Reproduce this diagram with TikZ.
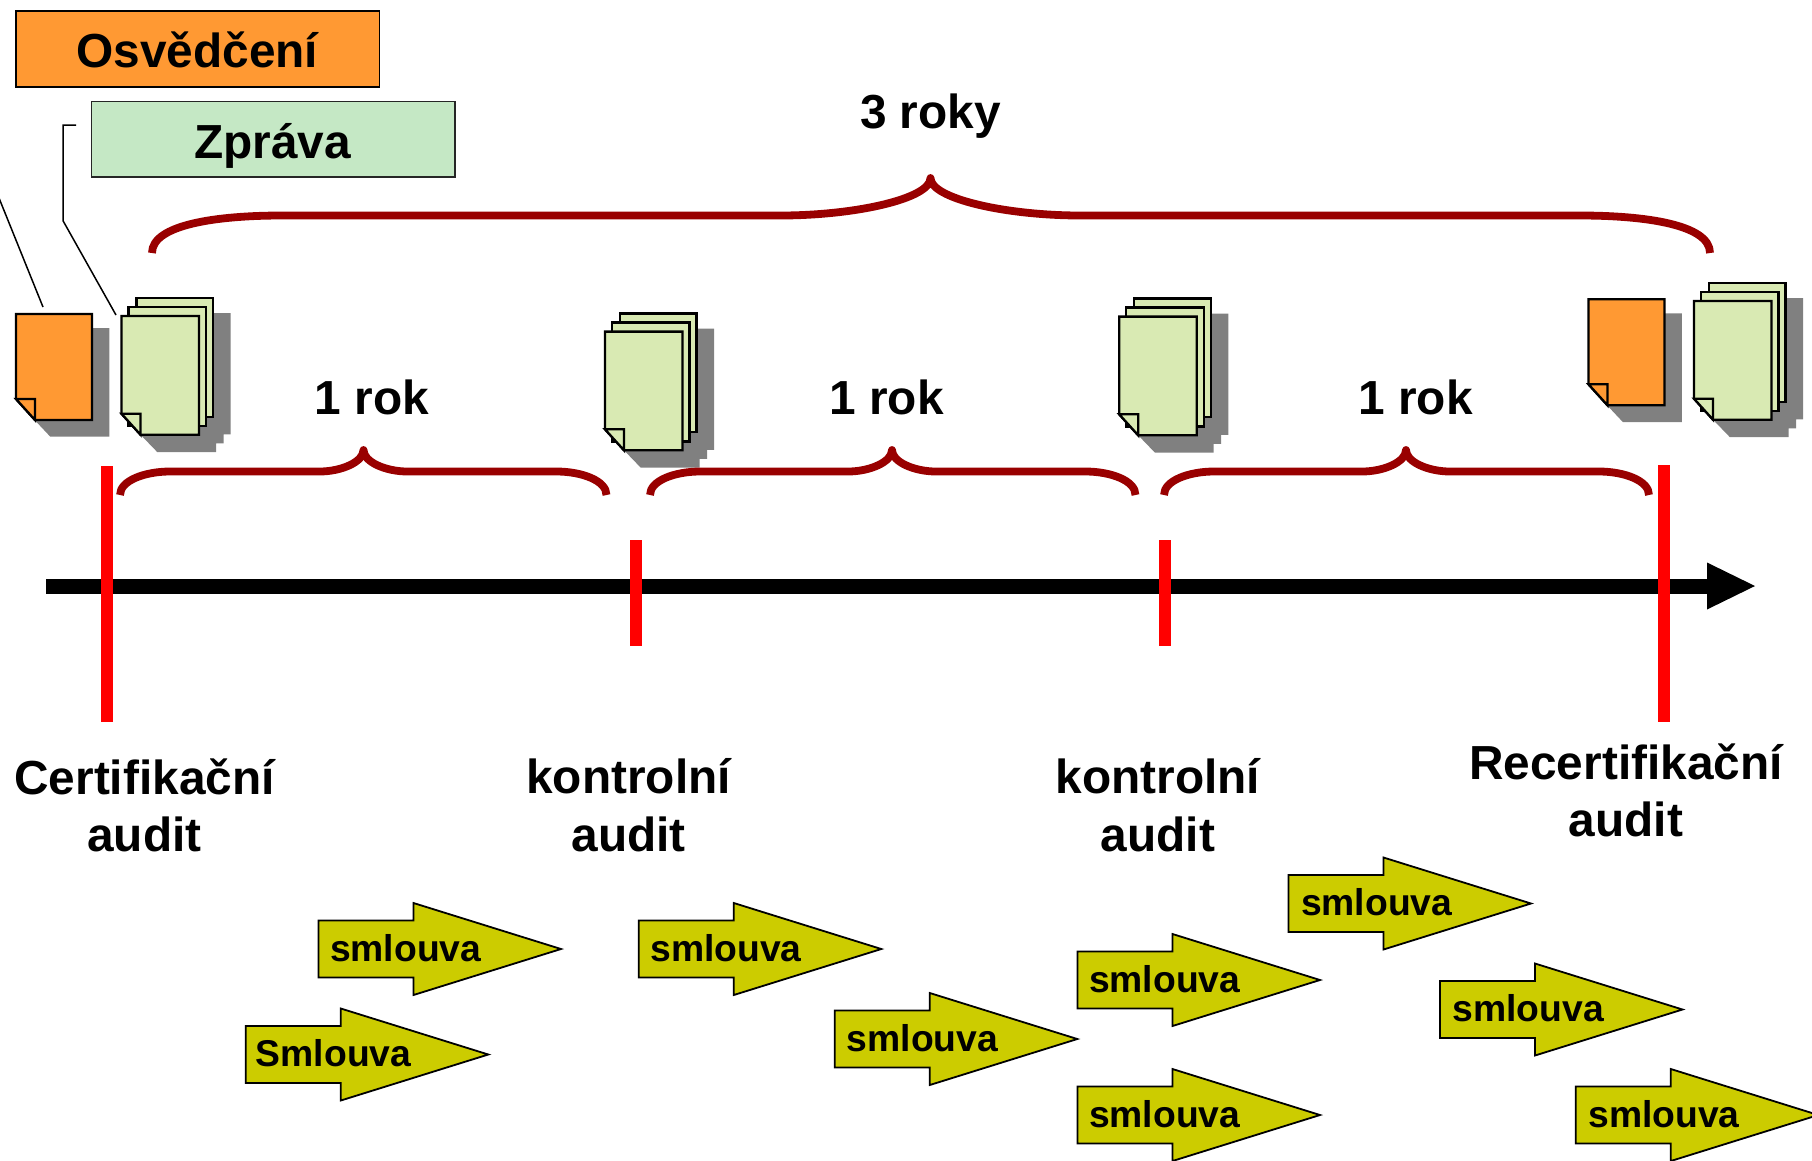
\documentclass[tikz,border=0pt]{standalone}
\usepackage{fontspec}
\setmainfont{Liberation Sans}
\definecolor{orng}{HTML}{FF9933}
\definecolor{boxgreen}{HTML}{C5E8C5}
\definecolor{docgreen}{HTML}{D9EAB3}
\definecolor{arrowyellow}{HTML}{CCCC00}
\definecolor{darkred}{HTML}{990000}
\definecolor{shadowgrey}{HTML}{808080}
\tikzset{
  lbl/.style={inner sep=0pt,outer sep=0pt,font=\fontsize{47.8}{57.5}\selectfont\bfseries,align=center,text=black},
  titlebox/.style={draw=black,line width=1.8pt},
  page/.style={draw=black,line width=2.3pt,line join=miter},
  brace/.style={draw=darkred,line width=7.8pt,line cap=butt,line join=round},
  bar/.style={fill=red,draw=none},
  callout/.style={draw=black,line width=1.5pt},
  arrowshape/.style={draw=black,fill=arrowyellow,line width=1.8pt,line join=miter},
  arrowtext/.style={inner sep=0pt,outer sep=0pt,anchor=base west,font=\fontsize{37.3}{40}\selectfont\bfseries}
}
% one sheet: x y w h fill
\newcommand\sheet[5]{%
  \path[page,fill=#5] (#1,#2) -- (#1+#3,#2) -- (#1+#3,#2+#4) -- (#1+19,#2+#4) -- (#1,#2+#4-21) -- cycle;
  \path[page,fill=#5] (#1,#2+#4-21) -- (#1+19,#2+#4-21) -- (#1+19,#2+#4) -- cycle;}
\newcommand\singledoc[3]{%
  \begin{scope}[shift={(#2,#3)}]
    \coordinate (#1) at (0,0);
    \fill[shadowgrey] (76,14) -- (93.3,14) -- (93.3,122.7) -- (34.3,122.7) -- (18.6,106) -- cycle;
    \sheet{0}{0}{76}{106}{orng}
  \end{scope}}
\newcommand\stackdoc[3]{%
  \begin{scope}[shift={(#2,#3)}]
    \coordinate (#1) at (0,0);
    \fill[shadowgrey] (78,-3) -- (109.2,-3) -- (109.2,118.3) -- (102,118.3) -- (102,127.3) -- (94.5,127.3) -- (94.5,136) -- (35.7,136) -- (19,118.7) -- cycle;
    \path[page,fill=docgreen] (15,-18) rectangle (91.5,100.7);
    \path[page,fill=docgreen] (7,-9) rectangle (84.5,110);
    \sheet{0}{0}{77.5}{118.7}{docgreen}
  \end{scope}}
% name x y textoffset text
\newcommand\contract[5]{%
  \path[arrowshape] (#2,#3-28.5) -- (#2+95,#3-28.5) -- (#2+95,#3-46) -- (#2+242.5,#3) -- (#2+95,#3+46) -- (#2+95,#3+28.5) -- (#2,#3+28.5) -- cycle;
  \node[arrowtext] (#1) at (#2+#4,#3+12) {#5};}
% x1 xm x2 yb yf yp flatstart flatpeak
\newcommand\curly[8]{%
  \path[brace] (#1,#4) .. controls (#1,#5+9) and (#1+#7*0.5,#5) .. (#1+#7,#5)
    -- (#2-#8,#5) .. controls (#2-#8*0.5,#5) and (#2,#5-0.45*#5+0.45*#6) .. (#2,#6)
    .. controls (#2,#5-0.45*#5+0.45*#6) and (#2+#8*0.5,#5) .. (#2+#8,#5)
    -- (#3-#7,#5) .. controls (#3-#7*0.5,#5) and (#3,#5+9) .. (#3,#4);}
\begin{document}
\begin{tikzpicture}[x=1pt,y=-1pt]
\clip (0,0) rectangle (1812,1160);
% title boxes
\path[titlebox,fill=orng] (15.7,11) rectangle (379.5,87);
\node[lbl,anchor=base] (osv) at (197.3,67) {Osvědčení};
\path[titlebox,draw=black!85,fill=boxgreen] (91.5,101.5) rectangle (455,177);
\node[lbl,anchor=base] (zpr) at (272.5,158.3) {Zpráva};
% documents
\singledoc{docA}{16}{314}
\stackdoc{stackA}{121.5}{316}
\stackdoc{stackB}{605}{331.6}
\stackdoc{stackC}{1119.2}{316.6}
\singledoc{docB}{1588.5}{299.3}
\stackdoc{stackD}{1694}{301}
% callouts
\coordinate (calA1) at (-1,198);
\coordinate (calA2) at (43,307);
\coordinate (calB1) at (76,125);
\coordinate (calB2) at (63,125);
\coordinate (calB3) at (63,220.7);
\coordinate (calB4) at (116,315);
\path[callout] (calA1) -- (calA2);
\path[callout] (calB1) -- (calB2) -- (calB3) -- (calB4);
% braces
\curly{152}{930.5}{1710}{253}{215.5}{178}{130}{150}
\curly{120}{363.5}{606.5}{495}{471.5}{450}{50}{44}
\curly{650}{892}{1135.5}{495}{471.5}{450}{50}{44}
\curly{1164}{1406}{1649}{495}{471.5}{450}{50}{44}
\node[lbl,anchor=base] (threeyears) at (930.5,128.5) {3 roky};
\node[lbl,anchor=base] (yearA) at (372,414.5) {1 rok};
\node[lbl,anchor=base] (yearB) at (886.5,414.5) {1 rok};
\node[lbl,anchor=base] (yearC) at (1415.5,414.5) {1 rok};
% timeline
\coordinate (tlstart) at (46,586);
\coordinate (tlend) at (1707,586);
\coordinate (tltip) at (1755,586);
\fill[black] (46,578.5) rectangle (1708,593.5);
\fill[black] (1707,562.5) -- (tltip) -- (1707,609.5) -- cycle;
% red bars
\path[bar] (101,466) rectangle (113,722);
\path[bar] (630,540) rectangle (642,646);
\path[bar] (1159,540) rectangle (1171,646);
\path[bar] (1658,465) rectangle (1670,722);
% audit labels
\node[lbl] (audA) at (144.5,805.3) {Certifikační\\audit};
\node[lbl] (audB) at (628.6,805.3) {kontrolní\\audit};
\node[lbl] (audC) at (1158,805.3) {kontrolní\\audit};
\node[lbl] (audD) at (1626,790.3) {Recertifikační\\audit};
% contracts
\contract{cA}{318.5}{949}{11.5}{smlouva}
\contract{cB}{245.8}{1054.5}{10}{Smlouva}
\contract{cC}{638.8}{949}{11.5}{smlouva}
\contract{cD}{834.8}{1039}{12}{smlouva}
\contract{cE}{1077.5}{980}{11.5}{smlouva}
\contract{cF}{1077.5}{1115}{11.5}{smlouva}
\contract{cG}{1288.5}{903.5}{12.5}{smlouva}
\contract{cH}{1440}{1009.5}{12.5}{smlouva}
\contract{cI}{1575.8}{1115}{12.5}{smlouva}
\end{tikzpicture}
\end{document}
